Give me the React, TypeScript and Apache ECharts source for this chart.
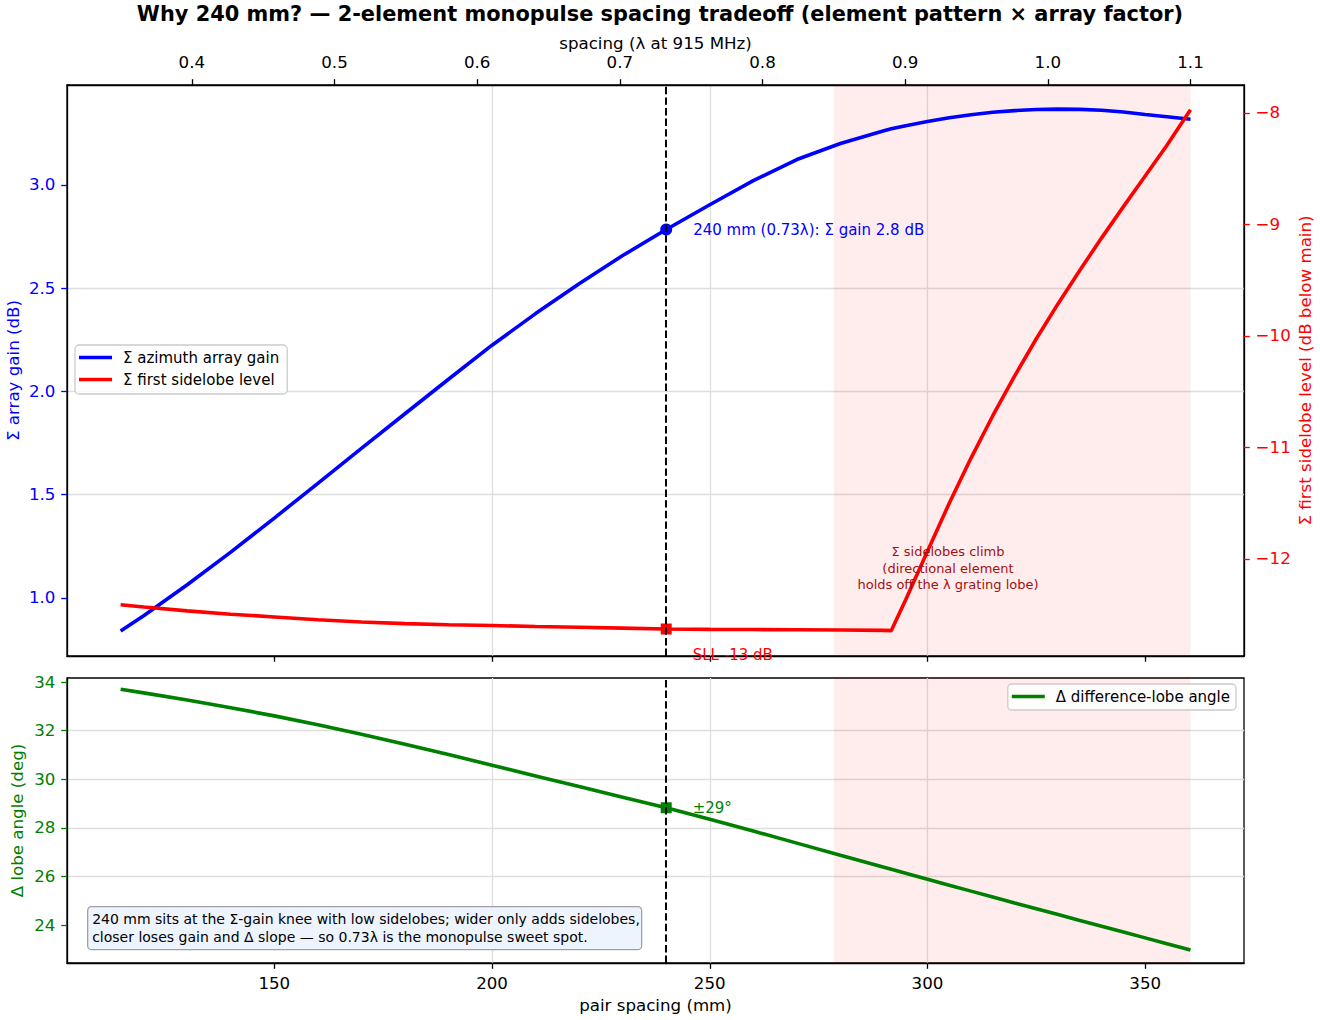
import React, { useEffect, useRef } from "react";
import * as echarts from "echarts";

const FONT = "DejaVu Sans";
const LAMBDA_MM = (299792458 / 915e6) * 1000; // wavelength at 915 MHz

// pair spacing samples (mm)
const SPACING_MM = [114.7, 120, 130, 140, 150, 160, 170, 180, 190, 200, 210, 220, 230, 240, 250, 260, 270, 280, 290, 291.7, 295, 300, 305, 310, 315, 320, 325, 330, 335, 340, 345, 350, 355, 360.4];
// Σ azimuth array gain (dB)
const SUM_GAIN_DB = [0.84, 0.914, 1.064, 1.222, 1.387, 1.555, 1.724, 1.892, 2.059, 2.224, 2.377, 2.522, 2.658, 2.784, 2.904, 3.021, 3.123, 3.201, 3.262, 3.272, 3.287, 3.307, 3.325, 3.34, 3.352, 3.36, 3.365, 3.367, 3.366, 3.362, 3.353, 3.341, 3.33, 3.318];
// Σ first sidelobe level (dB below main)
const SUM_SLL_DB = [-12.41, -12.43, -12.465, -12.495, -12.52, -12.545, -12.565, -12.58, -12.59, -12.597, -12.605, -12.612, -12.62, -12.628, -12.631, -12.633, -12.635, -12.637, -12.64, -12.642, -12.366, -11.93, -11.5, -11.095, -10.715, -10.36, -10.025, -9.71, -9.41, -9.12, -8.84, -8.565, -8.29, -7.97];
// Δ difference-lobe angle (deg)
const DIFF_ANGLE_DEG = [33.7, 33.552, 33.257, 32.942, 32.607, 32.242, 31.852, 31.442, 31.017, 30.577, 30.137, 29.697, 29.262, 28.827, 28.352, 27.867, 27.372, 26.872, 26.377, 26.294, 26.132, 25.887, 25.642, 25.397, 25.155, 24.912, 24.672, 24.432, 24.192, 23.952, 23.713, 23.474, 23.235, 22.977];

// chosen design point
const CHOSEN_MM = 240;
const CHOSEN_GAIN_DB = 2.784;
const CHOSEN_SLL_DB = -12.628;
const CHOSEN_ANGLE_DEG = 28.827;

// shaded "sidelobes climb" region, in wavelengths
const SHADE_LAMBDA = [0.85, 1.1];

// axis ticks
const LAMBDA_TICKS = [0.4, 0.5, 0.6, 0.7, 0.8, 0.9, 1.0, 1.1];
const MM_TICKS = [150, 200, 250, 300, 350];
const GAIN_TICKS = [1.0, 1.5, 2.0, 2.5, 3.0];
const SLL_TICKS = [-12, -11, -10, -9, -8];
const ANGLE_TICKS = [24, 26, 28, 30, 32, 34];

// axis limits
const X_LIMITS_LAMBDA = [0.3125, 1.1375];
const GAIN_LIMITS = [0.719, 3.484];
const SLL_LIMITS = [-12.87, -7.749];
const ANGLE_LIMITS = [22.44, 34.165];

const BLUE = "#0000ff";
const RED = "#ff0000";
const GREEN = "#008000";
const GRID_COLOR = "#dedede";
const TICK_FS = 16.67;

const pairs = (ys: number[]) => SPACING_MM.map((x, i) => [x, ys[i]]);
const minus = (v: number) => String(v).replace("-", "\u2212");

export default function App() {
  const ref = useRef<HTMLDivElement>(null);
  useEffect(() => {
    document.body.style.margin = "0";
    if (!ref.current) return;
    const chart = echarts.init(ref.current, null, { renderer: "svg" });
    const xMin = X_LIMITS_LAMBDA[0] * LAMBDA_MM;
    const xMax = X_LIMITS_LAMBDA[1] * LAMBDA_MM;
    const axisLine = { show: true, lineStyle: { color: "#000", width: 1.3 } };
    const splitLine = { show: true, showMinLine: false, showMaxLine: false, lineStyle: { color: GRID_COLOR, width: 1.3 } };
    const shade = {
      silent: true,
      itemStyle: { color: "rgba(255,0,0,0.07)" },
      data: [[{ xAxis: SHADE_LAMBDA[0] * LAMBDA_MM }, { xAxis: SHADE_LAMBDA[1] * LAMBDA_MM }]],
    };
    const vline = {
      silent: true,
      symbol: ["none", "none"],
      label: { show: false },
      lineStyle: { color: "#000", type: [7.4, 3.2], width: 2 },
      data: [{ xAxis: CHOSEN_MM }],
    };
    const legendBase = {
      orient: "vertical", selectedMode: false, icon: "rect",
      itemWidth: 33, itemHeight: 3.6, itemGap: 7,
      backgroundColor: "rgba(255,255,255,0.8)", borderColor: "#cccccc", borderWidth: 1.3, borderRadius: 4,
      textStyle: { fontFamily: FONT, fontSize: 15, color: "#000", padding: [0, 0, 0, 6] },
    };
    const nameBase = { nameLocation: "middle", nameMoveOverlap: false };
    const option: any = {
      animation: false,
      textStyle: { fontFamily: FONT },
      title: {
        text: "Why 240 mm? \u2014 2-element monopulse spacing tradeoff (element pattern \u00d7 array factor)",
        left: "center",
        top: 3,
        padding: 0,
        textStyle: { fontFamily: FONT, fontSize: 20.9, fontWeight: "bold", color: "#000" },
      },
      grid: [
        { left: 67, top: 85, width: 1177, height: 571, show: true, borderColor: "#000", borderWidth: 1.3, backgroundColor: "transparent", containLabel: false, outerBoundsMode: "none" },
        { left: 67, top: 678, width: 1177, height: 285, show: true, borderColor: "#000", borderWidth: 1.3, backgroundColor: "transparent", containLabel: false, outerBoundsMode: "none" },
      ],
      xAxis: [
        {
          gridIndex: 0, type: "value", position: "bottom", min: xMin, max: xMax,
          axisLine, axisTick: { show: true, customValues: MM_TICKS, length: 5.8, lineStyle: { color: "#000", width: 1.3 } },
          axisLabel: { show: false }, splitLine,
        },
        {
          ...nameBase,
          gridIndex: 0, type: "value", position: "top", min: X_LIMITS_LAMBDA[0], max: X_LIMITS_LAMBDA[1],
          name: "spacing (\u03bb at 915 MHz)", nameGap: 33.5,
          nameTextStyle: { fontFamily: FONT, fontSize: TICK_FS, color: "#000" },
          axisLine, axisTick: { show: true, customValues: LAMBDA_TICKS, length: 5.8, lineStyle: { color: "#000", width: 1.3 } },
          axisLabel: { customValues: LAMBDA_TICKS, formatter: (v: number) => v.toFixed(1), margin: 14, fontFamily: FONT, fontSize: TICK_FS, color: "#000" },
          splitLine: { show: false },
        },
        {
          ...nameBase,
          gridIndex: 1, type: "value", position: "bottom", min: xMin, max: xMax,
          name: "pair spacing (mm)", nameGap: 34,
          nameTextStyle: { fontFamily: FONT, fontSize: TICK_FS, color: "#000" },
          axisLine, axisTick: { show: true, customValues: MM_TICKS, length: 5.8, lineStyle: { color: "#000", width: 1.3 } },
          axisLabel: { customValues: MM_TICKS, margin: 11.5, fontFamily: FONT, fontSize: TICK_FS, color: "#000" },
          splitLine,
        },
      ],
      yAxis: [
        {
          ...nameBase,
          gridIndex: 0, type: "value", position: "left", min: GAIN_LIMITS[0], max: GAIN_LIMITS[1],
          name: "\u03a3 array gain (dB)", nameGap: 45.5,
          nameTextStyle: { fontFamily: FONT, fontSize: TICK_FS, color: BLUE },
          axisLine, axisTick: { show: true, customValues: GAIN_TICKS, length: 5.8, lineStyle: { color: BLUE, width: 1.3 } },
          axisLabel: { customValues: GAIN_TICKS, formatter: (v: number) => v.toFixed(1), margin: 11.6, fontFamily: FONT, fontSize: TICK_FS, color: BLUE },
          splitLine,
        },
        {
          ...nameBase,
          gridIndex: 0, type: "value", position: "right", min: SLL_LIMITS[0], max: SLL_LIMITS[1],
          name: "\u03a3 first sidelobe level (dB below main)", nameGap: 53,
          nameTextStyle: { fontFamily: FONT, fontSize: TICK_FS, color: RED },
          axisLine, axisTick: { show: true, customValues: SLL_TICKS, length: 5.8, lineStyle: { color: RED, width: 1.3 } },
          axisLabel: { customValues: SLL_TICKS, formatter: minus, margin: 11.6, fontFamily: FONT, fontSize: TICK_FS, color: RED },
          splitLine: { show: false },
        },
        {
          ...nameBase,
          gridIndex: 1, type: "value", position: "left", min: ANGLE_LIMITS[0], max: ANGLE_LIMITS[1],
          name: "\u0394 lobe angle (deg)", nameGap: 41,
          nameTextStyle: { fontFamily: FONT, fontSize: TICK_FS, color: GREEN },
          axisLine, axisTick: { show: true, customValues: ANGLE_TICKS, length: 5.8, lineStyle: { color: GREEN, width: 1.3 } },
          axisLabel: { customValues: ANGLE_TICKS, margin: 11.6, fontFamily: FONT, fontSize: TICK_FS, color: GREEN },
          splitLine,
        },
      ],
      legend: [
        {
          ...legendBase, left: 75, top: 345, padding: [5, 8, 7, 4],
          data: ["\u03a3 azimuth array gain", "\u03a3 first sidelobe level"],
        },
        {
          ...legendBase, right: 84, top: 684, padding: [5, 6, 6, 4],
          data: ["\u0394 difference-lobe angle"],
        },
      ],
      series: [
        {
          name: "\u03a3 azimuth array gain", type: "line", xAxisIndex: 0, yAxisIndex: 0,
          data: pairs(SUM_GAIN_DB), symbol: "none", showSymbol: false,
          color: BLUE, lineStyle: { color: BLUE, width: 3.6 }, z: 2,
          markArea: shade, markLine: vline,
        },
        {
          name: "\u03a3 first sidelobe level", type: "line", xAxisIndex: 0, yAxisIndex: 1,
          data: pairs(SUM_SLL_DB), symbol: "none", showSymbol: false,
          color: RED, lineStyle: { color: RED, width: 3.6 }, z: 2,
        },
        {
          name: "\u0394 difference-lobe angle", type: "line", xAxisIndex: 2, yAxisIndex: 2,
          data: pairs(DIFF_ANGLE_DEG), symbol: "none", showSymbol: false,
          color: GREEN, lineStyle: { color: GREEN, width: 3.6 }, z: 2,
          markArea: shade, markLine: vline,
        },
        {
          name: "chosen-gain", type: "scatter", xAxisIndex: 0, yAxisIndex: 0, z: 4,
          data: [[CHOSEN_MM, CHOSEN_GAIN_DB]], symbol: "circle", symbolSize: 12, itemStyle: { color: BLUE, opacity: 1 },
          label: { show: true, position: "right", distance: 21, formatter: "240 mm (0.73\u03bb): \u03a3 gain 2.8 dB", fontFamily: FONT, fontSize: 15, color: BLUE },
        },
        {
          name: "chosen-sll", type: "scatter", xAxisIndex: 0, yAxisIndex: 1, z: 4,
          data: [[CHOSEN_MM, CHOSEN_SLL_DB]], symbol: "rect", symbolSize: 11, itemStyle: { color: RED, opacity: 1 },
          label: { show: true, position: "right", distance: 21, offset: [0, 26], formatter: "SLL -13 dB", fontFamily: FONT, fontSize: 15, color: RED },
        },
        {
          name: "chosen-angle", type: "scatter", xAxisIndex: 2, yAxisIndex: 2, z: 4,
          data: [[CHOSEN_MM, CHOSEN_ANGLE_DEG]], symbol: "rect", symbolSize: 11, itemStyle: { color: GREEN, opacity: 1 },
          label: { show: true, position: "right", distance: 21, formatter: "\u00b129\u00b0", fontFamily: FONT, fontSize: 15, color: GREEN },
        },
      ],
      graphic: [
        {
          type: "text", x: 948, y: 568, z: 10,
          style: {
            text: "\u03a3 sidelobes climb\n(directional element\nholds off the \u03bb grating lobe)",
            fill: "#a31010", font: `13px '${FONT}'`, textAlign: "center", verticalAlign: "middle", lineHeight: 16.7,
          },
        },
        {
          type: "group", left: 87, top: 906, z: 20,
          children: [
            { type: "rect", z: 20, shape: { x: 0, y: 0, width: 554, height: 43, r: 4 }, style: { fill: "#eef4fd", stroke: "#a0a0a0", lineWidth: 1.3 } },
            {
              type: "text", z: 21, x: 4.5, y: 21.5,
              style: {
                text: "240 mm sits at the \u03a3-gain knee with low sidelobes; wider only adds sidelobes,\ncloser loses gain and \u0394 slope \u2014 so 0.73\u03bb is the monopulse sweet spot.",
                fill: "#000", font: `14px '${FONT}'`, lineHeight: 18, verticalAlign: "middle",
              },
            },
          ],
        },
      ],
    };
    chart.setOption(option);
    return () => chart.dispose();
  }, []);
  return <div ref={ref} style={{ width: 1320, height: 1020 }} />;
}
